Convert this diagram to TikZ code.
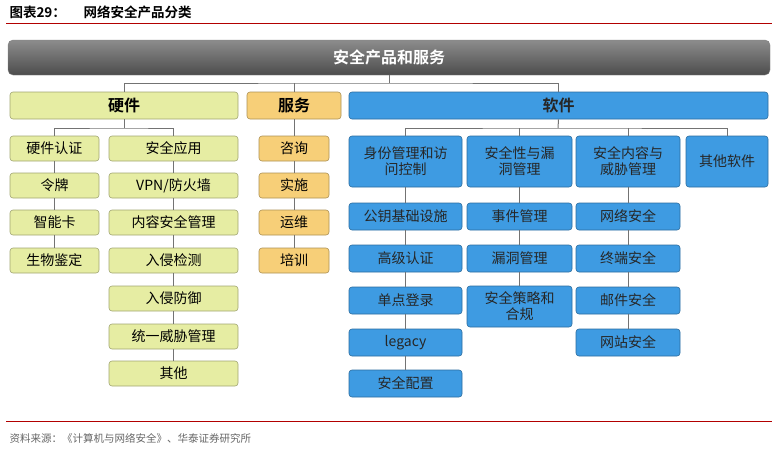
\documentclass[tikz,border=0pt]{standalone}
\usepackage{fontspec}
\newfontfamily\cjk{Noto Sans CJK SC}
\newfontfamily\cjkb{Noto Sans CJK SC Bold}
\begin{document}
\begin{tikzpicture}[x=1pt,y=-1pt,
  base/.style={rounded corners=3pt,draw=#1!70!black,line width=0.6pt,inner sep=0pt,align=center,font=\cjk\fontsize{14}{16}\selectfont},
  hw/.style={base=hwc,fill=hwc},
  sv/.style={base=svc,fill=svc},
  sw/.style={base=swc,fill=swc,text=black!85},
  ln/.style={draw=black!55,line width=1pt}]
\definecolor{hwc}{HTML}{E6EDA3}
\definecolor{svc}{HTML}{F7CF78}
\definecolor{swc}{HTML}{3E9BE2}
\useasboundingbox (0,0) rectangle (779,453);
\newcommand\bx[7]{\node[#6,minimum width=#4-#2,minimum height=#5-#3] (#1) at ({(#2+#4)/2},{(#3+#5)/2}) {#7};}
% title
\node[anchor=west,font=\cjkb\fontsize{13.5}{15}\selectfont] (title) at (6,12) {图表29：\hspace{1.3em}网络安全产品分类};
\draw[red!70!black,line width=0.8pt] (6,23) -- (772,23);
% top bar
\node[rounded corners=5pt,top color=black!45,bottom color=black!70,draw=black!50,minimum width=762,minimum height=35,font=\cjkb\fontsize{16}{18}\selectfont,text=white] (top) at (389,57.5) {安全产品和服务};
% level 1
\bx{hw}{10}{92}{238}{119}{hw,font=\cjkb\fontsize{16}{18}\selectfont}{硬件}
\bx{sv}{247}{92}{341}{119}{sv,font=\cjkb\fontsize{16}{18}\selectfont}{服务}
\bx{sw}{349}{92}{768}{119}{sw,font=\cjkb\fontsize{16}{18}\selectfont}{软件}
\coordinate (j) at (389,83);
\draw[ln] (top) -- (j);
\draw[ln] (hw.north) |- (j) -| (sw.north);
\draw[ln] (sv.north) -- (sv.north|-j);
% hardware
\bx{h1}{10}{136}{99}{161}{hw}{硬件认证}
\bx{h2}{10}{173}{99}{198}{hw}{令牌}
\bx{h3}{10}{210}{99}{235}{hw}{智能卡}
\bx{h4}{10}{248}{99}{273}{hw}{生物鉴定}
\bx{a1}{109}{136}{238}{161}{hw}{安全应用}
\bx{a2}{109}{173}{238}{198}{hw}{VPN/防火墙}
\bx{a3}{109}{210}{238}{235}{hw}{内容安全管理}
\bx{a4}{109}{248}{238}{273}{hw}{入侵检测}
\bx{a5}{109}{286}{238}{311}{hw}{入侵防御}
\bx{a6}{109}{324}{238}{349}{hw}{统一威胁管理}
\bx{a7}{109}{361}{238}{386}{hw}{其他}
\coordinate (hj) at (124,128);
\draw[ln] (hw.south) -- (hj);
\draw[ln] (h1.north) |- (hj) -| (a1.north);
\foreach \a/\b in {h1/h2,h2/h3,h3/h4,a1/a2,a2/a3,a3/a4,a4/a5,a5/a6,a6/a7} \draw[ln] (\a) -- (\b);
% services
\bx{s1}{259}{136}{329}{161}{sv}{咨询}
\bx{s2}{259}{173}{329}{198}{sv}{实施}
\bx{s3}{259}{210}{329}{235}{sv}{运维}
\bx{s4}{259}{248}{329}{273}{sv}{培训}
\draw[ln] (sv) -- (s1);
\foreach \a/\b in {s1/s2,s2/s3,s3/s4} \draw[ln] (\a) -- (\b);
% software level 2
\bx{c1}{349}{136}{462}{187}{sw}{身份管理和访\\问控制}
\bx{c2}{467}{136}{572}{187}{sw}{安全性与漏\\洞管理}
\bx{c3}{576}{136}{680}{187}{sw}{安全内容与\\威胁管理}
\bx{c4}{686}{136}{768}{187}{sw}{其他软件}
\coordinate (sj) at (558,128);
\draw[ln] (sw.south) -- (sj);
\draw[ln] (c1.north) |- (sj) -| (c4.north);
\draw[ln] (c2.north) -- (c2.north|-sj);
\draw[ln] (c3.north) -- (c3.north|-sj);
\bx{d1}{349}{203}{462}{230}{sw}{公钥基础设施}
\bx{d2}{349}{245}{462}{272}{sw}{高级认证}
\bx{d3}{349}{287}{462}{314}{sw}{单点登录}
\bx{d4}{349}{329}{462}{356}{sw}{legacy}
\bx{d5}{349}{370}{462}{397}{sw}{安全配置}
\bx{e1}{467}{203}{572}{230}{sw}{事件管理}
\bx{e2}{467}{245}{572}{272}{sw}{漏洞管理}
\bx{e3}{467}{286}{572}{327}{sw}{安全策略和\\合规}
\bx{f1}{576}{203}{680}{230}{sw}{网络安全}
\bx{f2}{576}{245}{680}{272}{sw}{终端安全}
\bx{f3}{576}{287}{680}{314}{sw}{邮件安全}
\bx{f4}{576}{329}{680}{356}{sw}{网站安全}
\foreach \a/\b in {c1/d1,d1/d2,d2/d3,d3/d4,d4/d5,c2/e1,e1/e2,e2/e3,c3/f1,f1/f2,f2/f3,f3/f4} \draw[ln] (\a) -- (\b);
% footer
\draw[red!70!black,line width=0.8pt] (6,421) -- (772,421);
\node[anchor=west,text=black!60,font=\cjk\fontsize{10.5}{12}\selectfont] (src) at (6,438) {资料来源：《计算机与网络安全》、华泰证券研究所};
\end{tikzpicture}
\end{document}
